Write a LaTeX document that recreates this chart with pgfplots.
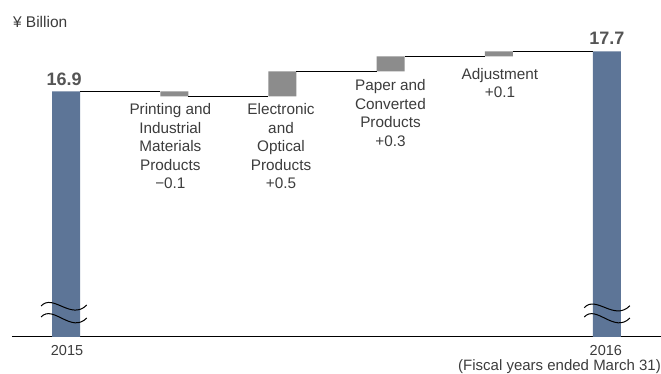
\documentclass[border=0pt]{standalone}
\usepackage{pgfplots}
\pgfplotsset{compat=1.18}
\usepackage{fontspec}
\setmainfont{Liberation Sans}
\definecolor{barblue}{HTML}{5D7597}
\definecolor{bargrey}{HTML}{8C8C8C}
\definecolor{txt}{HTML}{3C3C3C}
\definecolor{valtxt}{HTML}{555555}
\begin{document}
\begin{tikzpicture}
\pgfplotsset{commonax/.style={
  at={(0,0)}, anchor=south west,
  scale only axis, width=649pt, height=336.3pt,
  xmin=-0.5, xmax=5.5, ymin=12, ymax=18.726,
  xtick=\empty, ytick=\empty,
}}
% bars
\begin{axis}[commonax,
  axis x line=bottom, axis y line=none,
  x axis line style={-, line width=1.2pt, black},
  ybar stacked, bar width=28pt,
  clip mode=individual,
]
\addplot[draw=none, fill=none] coordinates {(0,0) (1,16.8) (2,16.8) (3,17.3) (4,17.6) (5,0)};
\addplot[draw=none, fill=bargrey] coordinates {(0,0) (1,0.1) (2,0.5) (3,0.3) (4,0.1) (5,0)};
\addplot[draw=none, fill=barblue] coordinates {(0,16.9) (1,0) (2,0) (3,0) (4,0) (5,17.7)};
\end{axis}
% connectors and annotations
\begin{axis}[commonax, hide axis, clip=false]
\addplot[black, line width=0.9pt, no markers] coordinates {(0.1294,16.9) (0.8706,16.9)};
\addplot[black, line width=0.9pt, no markers] coordinates {(1.1294,16.8) (1.8706,16.8)};
\addplot[black, line width=0.9pt, no markers] coordinates {(2.1294,17.3) (2.8706,17.3)};
\addplot[black, line width=0.9pt, no markers] coordinates {(3.1294,17.6) (3.8706,17.6)};
\addplot[black, line width=0.9pt, no markers] coordinates {(4.1294,17.7) (4.8706,17.7)};
% axis breaks
\draw[black, line width=1pt] (axis cs:0,12.606) ++(-25pt,0pt) .. controls +(12pt,13pt) and +(-15.7pt,-16pt) .. ++(45.7pt,1pt);
\draw[black, line width=1pt] (axis cs:0,12.386) ++(-25pt,0pt) .. controls +(12pt,13pt) and +(-15.7pt,-16pt) .. ++(45.7pt,-1pt);
\draw[black, line width=1pt] (axis cs:5,12.572) ++(-22.7pt,0pt) .. controls +(12pt,13pt) and +(-15.7pt,-16pt) .. ++(45.7pt,2pt);
\draw[black, line width=1pt] (axis cs:5,12.386) ++(-22.7pt,0pt) .. controls +(12pt,13pt) and +(-15.7pt,-16pt) .. ++(45.7pt,-1pt);
% texts
\node[anchor=base west, inner sep=0pt, text=txt, font=\fontsize{15.5}{18}\selectfont] at (axis cs:-0.4926,18.18) {¥ Billion};
\node[anchor=base, inner sep=0pt, text=valtxt, font=\fontsize{18}{20}\selectfont\bfseries] at (axis cs:-0.018,17.012) {16.9};
\node[anchor=base, inner sep=0pt, text=valtxt, font=\fontsize{18}{20}\selectfont\bfseries] at (axis cs:5,17.826) {17.7};
\node[anchor=base, inner sep=0pt, text=txt, font=\fontsize{14.5}{17}\selectfont] at (axis cs:0.009,11.616) {2015};
\node[anchor=base, inner sep=0pt, text=txt, font=\fontsize{14.5}{17}\selectfont] at (axis cs:4.99,11.616) {2016};
\node[anchor=base east, inner sep=0pt, text=txt, font=\fontsize{15}{17}\selectfont] at (axis cs:5.5,11.306) {(Fiscal years ended March 31)};
\node[anchor=north, inner sep=0pt, align=center, text=txt, font=\fontsize{15.3}{18.5}\selectfont] at (axis cs:0.964,16.656) {Printing and\\Industrial\\Materials\\Products\\−0.1};
\node[anchor=north, inner sep=0pt, align=center, text=txt, font=\fontsize{15.3}{18.5}\selectfont] at (axis cs:1.987,16.656) {Electronic\\and\\Optical\\Products\\+0.5};
\node[anchor=north, inner sep=0pt, align=center, text=txt, font=\fontsize{15.3}{18.5}\selectfont] at (axis cs:2.999,17.136) {Paper and\\Converted\\Products\\+0.3};
\node[anchor=north, inner sep=0pt, align=center, text=txt, font=\fontsize{15.3}{18.5}\selectfont] at (axis cs:4.011,17.366) {Adjustment\\+0.1};
\end{axis}
\pgfresetboundingbox
\path (-12pt,-37.7pt) rectangle (649pt,336.3pt);
\end{tikzpicture}
\end{document}
